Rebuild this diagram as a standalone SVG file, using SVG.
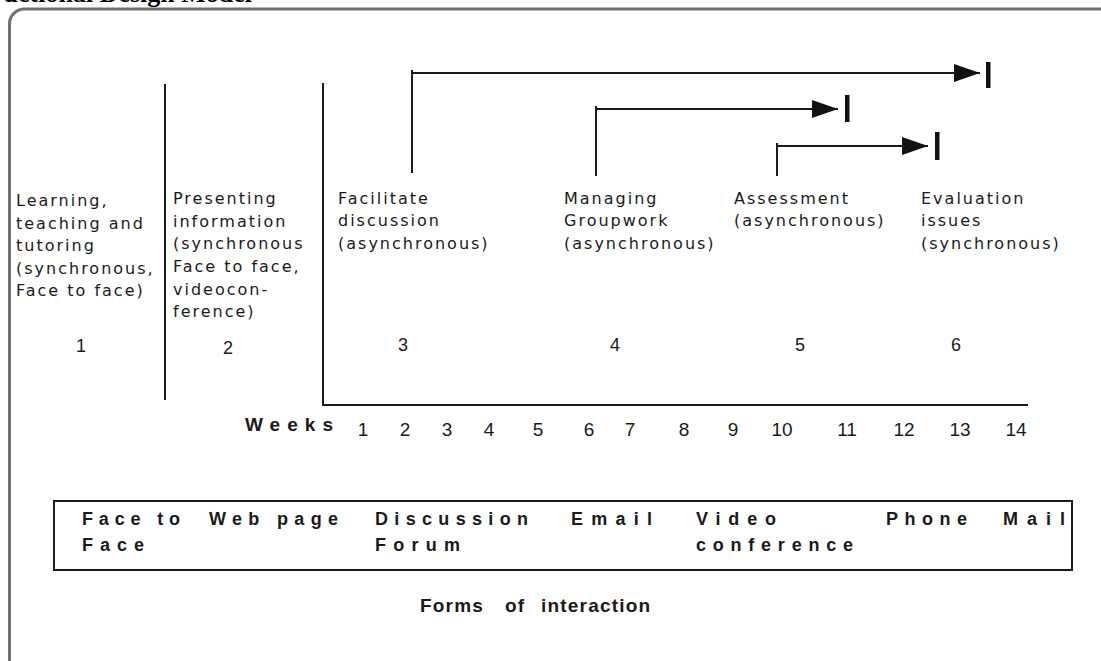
<svg xmlns="http://www.w3.org/2000/svg" width="1101" height="661" viewBox="0 0 1101 661">
<defs>
<style>
.lbl{font-family:"DejaVu Sans",Verdana,sans-serif;font-size:16px;letter-spacing:2px;fill:#1a1a1a}
.num{font-family:"Liberation Sans",Arial,sans-serif;font-size:18px;fill:#1a1a1a;text-anchor:middle}
.wk{font-family:"Liberation Sans Narrow","Liberation Sans",Arial,sans-serif;font-size:19px;fill:#1a1a1a;text-anchor:middle}
.form{font-family:"Liberation Sans",Arial,sans-serif;font-size:18px;font-weight:bold;fill:#1a1a1a}
.ln{stroke:#1a1a1a;stroke-width:2;fill:none}
</style>
<marker id="ah" viewBox="0 0 10 10" refX="10" refY="5" markerWidth="26" markerHeight="18" markerUnits="userSpaceOnUse" orient="auto" preserveAspectRatio="none">
<path d="M0,0 L10,5 L0,10 Z" fill="#111"/>
</marker>
</defs>
<rect width="1101" height="661" fill="#fff"/>
<text x="252" y="2" text-anchor="end" font-family="Liberation Serif,serif" font-weight="bold" font-size="26" fill="#000">Instructional Design Model</text>
<path d="M9.5,661 V24 A15,15 0 0 1 24.5,9 H1101" fill="none" stroke="#707070" stroke-width="3"/>

<g id="axes">
<line class="ln" x1="165" y1="84" x2="165" y2="400"/>
<path class="ln" d="M323,83 V405 H1028"/>
</g>

<g id="connectors">
<path class="ln" d="M412,173 V70"/>
<path class="ln" d="M411,73 H980" marker-end="url(#ah)"/>
<rect x="986" y="62" width="4.5" height="26" fill="#111"/>
<path class="ln" d="M596,176 V106"/>
<path class="ln" d="M595,109 H838" marker-end="url(#ah)"/>
<rect x="845" y="95" width="4.5" height="27" fill="#111"/>
<path class="ln" d="M777,176 V143"/>
<path class="ln" d="M776,146 H928" marker-end="url(#ah)"/>
<rect x="935" y="132" width="4.5" height="28" fill="#111"/>
</g>

<g id="col1">
<text class="lbl" x="16" y="206">Learning,</text>
<text class="lbl" x="16" y="228.5">teaching and</text>
<text class="lbl" x="16" y="251">tutoring</text>
<text class="lbl" x="16" y="273.5">(synchronous,</text>
<text class="lbl" x="16" y="296">Face to face)</text>
<text class="num" x="81" y="352">1</text>
</g>
<g id="col2">
<text class="lbl" x="173" y="204">Presenting</text>
<text class="lbl" x="173" y="226.7">information</text>
<text class="lbl" x="173" y="249.3">(synchronous</text>
<text class="lbl" x="173" y="272">Face to face,</text>
<text class="lbl" x="173" y="294.7">videocon-</text>
<text class="lbl" x="173" y="317.3">ference)</text>
<text class="num" x="228" y="354">2</text>
</g>
<g id="col3">
<text class="lbl" x="338" y="203.5">Facilitate</text>
<text class="lbl" x="338" y="226">discussion</text>
<text class="lbl" x="338" y="248.5">(asynchronous)</text>
<text class="num" x="403" y="351">3</text>
</g>
<g id="col4">
<text class="lbl" x="564" y="203.5">Managing</text>
<text class="lbl" x="564" y="226">Groupwork</text>
<text class="lbl" x="564" y="248.5">(asynchronous)</text>
<text class="num" x="615" y="351">4</text>
</g>
<g id="col5">
<text class="lbl" x="734" y="203.5">Assessment</text>
<text class="lbl" x="734" y="226">(asynchronous)</text>
<text class="num" x="800" y="351">5</text>
</g>
<g id="col6">
<text class="lbl" x="921" y="203.5">Evaluation</text>
<text class="lbl" x="921" y="226">issues</text>
<text class="lbl" x="921" y="248.5">(synchronous)</text>
<text class="num" x="956" y="351">6</text>
</g>

<g id="weeks">
<text x="245" y="431" font-family="Liberation Sans,Arial,sans-serif" font-weight="bold" font-size="19" fill="#1a1a1a" textLength="88" lengthAdjust="spacing">Weeks</text>
<text class="wk" x="363" y="436">1</text>
<text class="wk" x="405" y="436">2</text>
<text class="wk" x="447" y="436">3</text>
<text class="wk" x="489" y="436">4</text>
<text class="wk" x="538" y="436">5</text>
<text class="wk" x="589" y="436">6</text>
<text class="wk" x="630" y="436">7</text>
<text class="wk" x="684" y="436">8</text>
<text class="wk" x="733" y="436">9</text>
<text class="wk" x="782" y="436">10</text>
<text class="wk" x="847" y="436">11</text>
<text class="wk" x="904" y="436">12</text>
<text class="wk" x="960" y="436">13</text>
<text class="wk" x="1016" y="436">14</text>
</g>

<g id="forms-box">
<rect x="54" y="501" width="1018" height="69" fill="none" stroke="#1a1a1a" stroke-width="2"/>
<text class="form" x="82" y="525" textLength="98" lengthAdjust="spacing">Face to</text>
<text class="form" x="82" y="551" textLength="62" lengthAdjust="spacing">Face</text>
<text class="form" x="209" y="525" textLength="129" lengthAdjust="spacing">Web page</text>
<text class="form" x="375" y="525" textLength="153" lengthAdjust="spacing">Discussion</text>
<text class="form" x="375" y="551" textLength="85" lengthAdjust="spacing">Forum</text>
<text class="form" x="571" y="525" textLength="81" lengthAdjust="spacing">Email</text>
<text class="form" x="696" y="525" textLength="80" lengthAdjust="spacing">Video</text>
<text class="form" x="696" y="551" textLength="157" lengthAdjust="spacing">conference</text>
<text class="form" x="886" y="525" textLength="81" lengthAdjust="spacing">Phone</text>
<text class="form" x="1003" y="525" textLength="62" lengthAdjust="spacing">Mail</text>
</g>

<g id="caption">
<text y="612" font-family="Liberation Sans,Arial,sans-serif" font-weight="bold" font-size="19" fill="#1a1a1a" letter-spacing="1.2"><tspan x="420">Forms</tspan><tspan x="505">of</tspan><tspan x="541">interaction</tspan></text>
</g>
</svg>
